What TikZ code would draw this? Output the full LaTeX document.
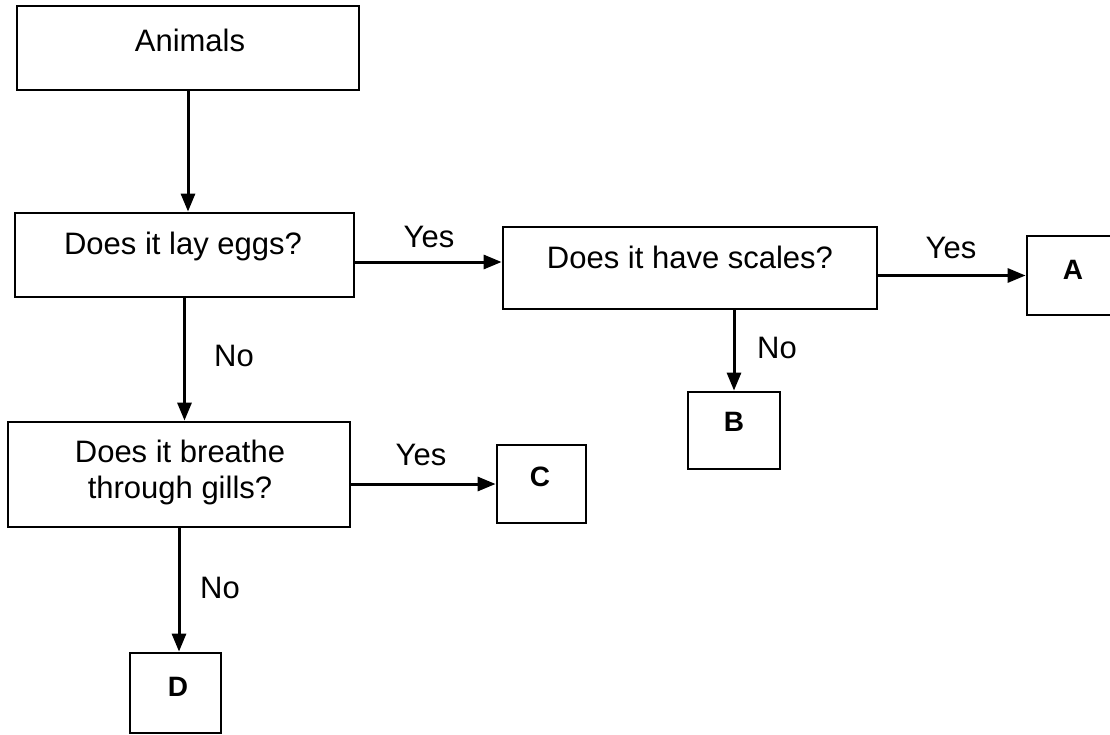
\documentclass[tikz,border=0pt]{standalone}
\usepackage{fontspec}
\setmainfont{Liberation Sans}
\usetikzlibrary{arrows.meta}
\begin{document}
\begin{tikzpicture}[x=1pt,y=-1pt,
  box/.style={draw=black,line width=2.8pt,rectangle,inner sep=0pt,fill=none},
  txt/.style={inner sep=0pt,font=\fontsize{31}{36}\selectfont,align=center},
  lett/.style={inner sep=0pt,font=\fontsize{28}{32}\selectfont\bfseries},
  lbl/.style={inner sep=0pt,font=\fontsize{31}{36}\selectfont},
  arr/.style={line width=3pt,-{Triangle[length=18pt,width=14pt]}}]
\useasboundingbox (0,0) rectangle (1110,735);
% boxes
\node[box,minimum width=342pt,minimum height=84pt] (animals) at (188,48) {};
\node[box,minimum width=339pt,minimum height=84pt] (eggs) at (184.5,255) {};
\node[box,minimum width=374pt,minimum height=82pt] (scales) at (690,268) {};
\node[box,minimum width=92pt,minimum height=79pt] (A) at (1073,275.5) {};
\node[box,minimum width=92pt,minimum height=77pt] (B) at (734,430.5) {};
\node[box,minimum width=342pt,minimum height=105pt] (gills) at (179,474.5) {};
\node[box,minimum width=89pt,minimum height=78pt] (C) at (541.5,484) {};
\node[box,minimum width=91pt,minimum height=80pt] (D) at (175.5,693) {};
% texts
\node[txt] (tanimals) at (190,40) {Animals};
\node[txt] (teggs) at (183,246) {Does it lay eggs?};
\node[txt] (tscales) at (690,257) {Does it have scales?};
\node[txt] (tgills) at (180,472) {Does it breathe\\through gills?};
\node[lett] (tA) at (1073,270) {A};
\node[lett] (tB) at (734,422) {B};
\node[lett] (tC) at (540,477) {C};
\node[lett] (tD) at (178,687) {D};
% connectors
\draw[arr] (animals.south) -- (animals.south |- eggs.north);
\draw[arr] ([yshift=-7pt]eggs.east) -- ([yshift=6pt]scales.west);
\draw[arr] (scales.east |- A.west) -- (A.west);
\draw[arr] (scales.south -| B.north) -- (B.north);
\draw[arr] (eggs.south) -- (eggs.south |- gills.north);
\draw[arr] (gills.east |- C.west) -- (C.west);
\draw[arr] (gills.south) -- (gills.south |- D.north);
% labels
\node[lbl] (yes1) at (429,237) {Yes};
\node[lbl] (yes2) at (951,248) {Yes};
\node[lbl] (no1) at (777,348) {No};
\node[lbl] (no2) at (234,356) {No};
\node[lbl] (yes3) at (421,455) {Yes};
\node[lbl] (no3) at (220,588) {No};
\end{tikzpicture}
\end{document}
